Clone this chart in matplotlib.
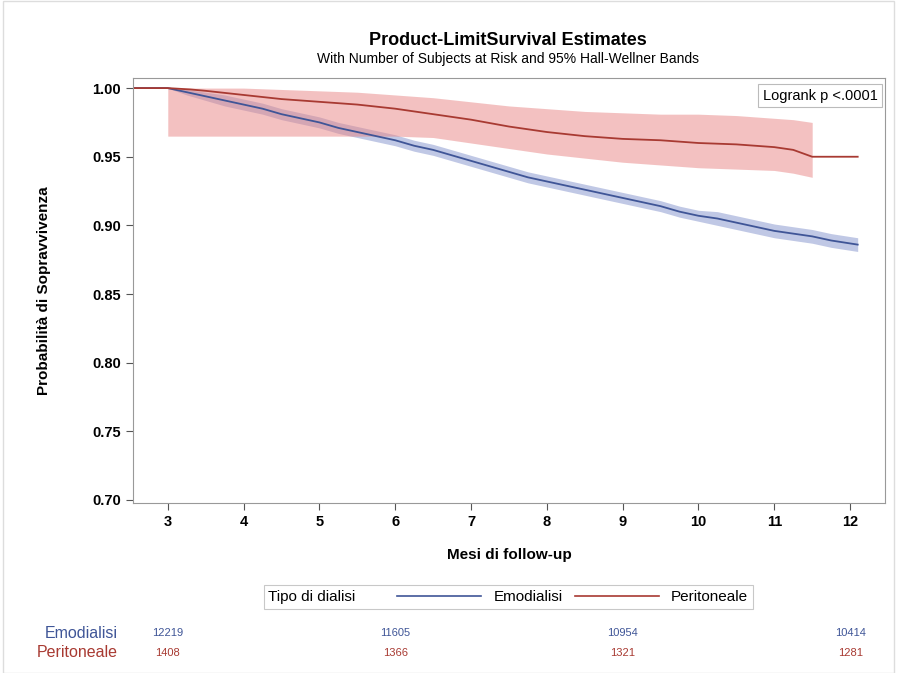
import matplotlib
matplotlib.use("Agg")
import matplotlib.pyplot as plt
from matplotlib.lines import Line2D
from matplotlib.offsetbox import HPacker
from matplotlib.patches import Rectangle
import matplotlib.transforms as mtransforms

plt.rcParams["font.family"] = ["Liberation Sans", "DejaVu Sans"]

# Emodialisi (hemodialysis) survival estimate and Hall-Wellner band
emo_t = [3.0, 3.25, 3.5, 3.75, 4.0, 4.25, 4.5, 4.75, 5.0, 5.25, 5.5, 5.75, 6.0,
         6.25, 6.5, 6.75, 7.0, 7.25, 7.5, 7.75, 8.0, 8.25, 8.5, 8.75, 9.0, 9.25,
         9.5, 9.75, 10.0, 10.25, 10.5, 10.75, 11.0, 11.25, 11.5, 11.75, 12.1]
emo_s = [1.000, 0.997, 0.994, 0.991, 0.988, 0.985, 0.981, 0.978, 0.975, 0.971,
         0.968, 0.965, 0.962, 0.958, 0.955, 0.951, 0.947, 0.943, 0.939, 0.935,
         0.932, 0.929, 0.926, 0.923, 0.920, 0.917, 0.914, 0.910, 0.907, 0.905,
         0.902, 0.899, 0.896, 0.894, 0.892, 0.889, 0.886]
emo_lo = [1.000, 0.995, 0.991, 0.987, 0.984, 0.981, 0.977, 0.974, 0.971, 0.967,
          0.964, 0.961, 0.958, 0.954, 0.951, 0.947, 0.943, 0.939, 0.935, 0.931,
          0.928, 0.925, 0.922, 0.919, 0.916, 0.913, 0.910, 0.906, 0.903, 0.900,
          0.897, 0.894, 0.891, 0.889, 0.887, 0.884, 0.881]
emo_hi = [1.000, 0.999, 0.997, 0.995, 0.992, 0.989, 0.985, 0.982, 0.979, 0.975,
          0.972, 0.969, 0.966, 0.962, 0.959, 0.955, 0.951, 0.947, 0.943, 0.939,
          0.936, 0.933, 0.930, 0.927, 0.924, 0.921, 0.918, 0.914, 0.911, 0.910,
          0.907, 0.904, 0.901, 0.899, 0.897, 0.894, 0.891]

# Peritoneale (peritoneal dialysis)
per_t = [3.0, 3.3, 3.5, 4.0, 4.5, 5.0, 5.5, 6.0, 6.5, 7.0, 7.5, 8.0, 8.5, 9.0, 9.5,
         10.0, 10.5, 11.0, 11.25, 11.4, 11.5, 12.1]
per_s = [1.000, 0.999, 0.998, 0.995, 0.992, 0.990, 0.988, 0.985, 0.981, 0.977,
         0.972, 0.968, 0.965, 0.963, 0.962, 0.960, 0.959, 0.957, 0.955, 0.952,
         0.950, 0.950]
per_band_t = [3.0, 3.5, 4.0, 4.5, 5.0, 5.5, 6.0, 6.5, 7.0, 7.5, 8.0, 8.5, 9.0,
              9.5, 10.0, 10.5, 11.0, 11.25, 11.5]
per_lo = [0.965, 0.965, 0.965, 0.965, 0.965, 0.965, 0.965, 0.964, 0.960, 0.956,
          0.952, 0.949, 0.946, 0.944, 0.942, 0.941, 0.940, 0.938, 0.935]
per_hi = [1.000, 1.000, 1.000, 0.999, 0.998, 0.997, 0.995, 0.993, 0.990, 0.987,
          0.985, 0.983, 0.982, 0.981, 0.981, 0.980, 0.978, 0.977, 0.975]

risk_times = [3, 6, 9, 12]
emo_risk = [12219, 11605, 10954, 10414]
per_risk = [1408, 1366, 1321, 1281]

BLUE = "#3f5597"
RED = "#a83a32"

fig = plt.figure(figsize=(8.98, 6.73), dpi=100)
ax = fig.add_axes([0.148, 0.2526, 0.8375, 0.6314])

ax.fill_between(emo_t, emo_lo, emo_hi, color="#8d9bd0", alpha=0.55, lw=0)
ax.fill_between(per_band_t, per_lo, per_hi, color="#e88585", alpha=0.5, lw=0)
ax.plot([2.54] + emo_t, [1.0] + emo_s, color=BLUE, lw=1.3)
ax.plot([2.54] + per_t, [1.0] + per_s, color=RED, lw=1.3)

ax.set_xlim(2.54, 12.46)
ax.set_ylim(0.6978, 1.0073)
ax.set_xticks(range(3, 13))
ax.set_yticks([0.70, 0.75, 0.80, 0.85, 0.90, 0.95, 1.00])
ax.set_yticklabels(["0.70", "0.75", "0.80", "0.85", "0.90", "0.95", "1.00"])
for lab in ax.get_xticklabels() + ax.get_yticklabels():
    lab.set_fontweight("bold")
    lab.set_fontsize(10.5)
ax.tick_params(colors="#555555", labelcolor="black", length=5)
for sp in ax.spines.values():
    sp.set_color("#999999")

ax.set_xlabel("Mesi di follow-up", fontsize=11, fontweight="bold", labelpad=14)
ax.set_ylabel("Probabilità di Sopravvivenza", fontsize=11, fontweight="bold", labelpad=30)

ax.text(0.99, 0.975, "Logrank p <.0001", transform=ax.transAxes, ha="right", va="top",
        fontsize=10.5, bbox=dict(boxstyle="square,pad=0.3", fc="white", ec="#bbbbbb", lw=0.8))

fig.text(0.566, 0.940, "Product-LimitSurvival Estimates", ha="center", va="center",
         fontsize=13, fontweight="bold")
fig.text(0.566, 0.912, "With Number of Subjects at Risk and 95% Hall-Wellner Bands",
         ha="center", va="center", fontsize=10)

handles = [Line2D([], [], color=BLUE, lw=1.2), Line2D([], [], color=RED, lw=1.2)]
leg = fig.legend(handles, ["Emodialisi", "Peritoneale"], title="Tipo di dialisi", ncol=2,
                 loc="center", bbox_to_anchor=(0.566, 0.113), fontsize=11,
                 title_fontsize=11, frameon=True, fancybox=False, edgecolor="#bbbbbb",
                 handlelength=5.5, columnspacing=0.8, handletextpad=0.8, borderpad=0.3)
leg.get_frame().set_linewidth(0.8)
# put the legend title on the same row as the entries
old = leg._legend_box
leg._legend_box = HPacker(pad=old.pad, sep=30, align="center", children=old.get_children())
leg._legend_box.set_figure(fig)
leg._legend_box.set_offset(leg._findoffset)

# numbers at risk
trans = mtransforms.blended_transform_factory(ax.transData, fig.transFigure)
fig.text(0.131, 0.059, "Emodialisi", ha="right", va="center", fontsize=11.5, color=BLUE)
fig.text(0.131, 0.030, "Peritoneale", ha="right", va="center", fontsize=11.5, color=RED)
for t, e, p in zip(risk_times, emo_risk, per_risk):
    ax.text(t, 0.059, str(e), transform=trans, ha="center", va="center", fontsize=8, color=BLUE)
    ax.text(t, 0.030, str(p), transform=trans, ha="center", va="center", fontsize=8, color=RED)

fig.patches.append(Rectangle((0.003, 0.0), 0.992, 0.999, transform=fig.transFigure,
                             fill=False, ec="#dddddd", lw=1))

fig.savefig("out.png", dpi=100)
